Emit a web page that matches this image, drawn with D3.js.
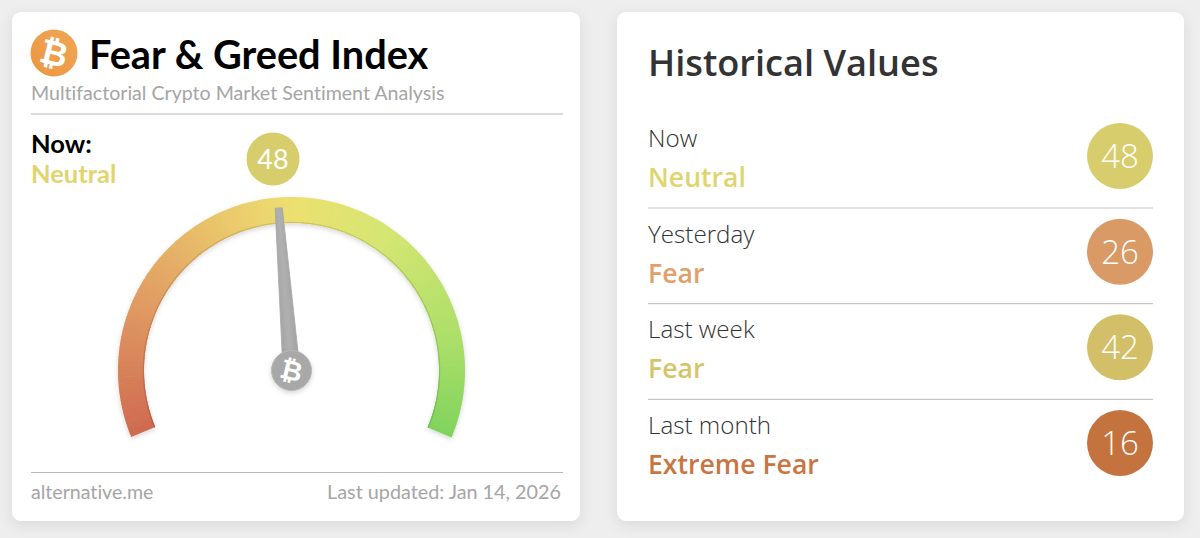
<!DOCTYPE html>
<html>
<head>
<meta charset="utf-8">
<script src="https://cdn.jsdelivr.net/npm/d3@7"></script>
<style>
  html, body { margin: 0; padding: 0; background: #eeeeee; }
  svg { display: block; }
  text { font-family: Lato, sans-serif; font-variant-ligatures: none; }
  .hist text { font-family: "Open Sans", Lato, sans-serif; }
</style>
</head>
<body>
<script>
'use strict';

const indexValue = 48;
const indexLabel = 'Neutral';

// gauge colours
const gaugeStops = [0, 20, 40, 50, 65, 85, 100];
const gaugeColors = ['#cf6a50', '#e09a62', '#ebca6c', '#ece070', '#d6e672', '#abdf69', '#80d35d'];

const histLabels = ['Now', 'Yesterday', 'Last week', 'Last month'];
const histStatus = ['Neutral', 'Fear', 'Fear', 'Extreme Fear'];
const histValues = [48, 26, 42, 16];
const histText = ['#dfd56f', '#e0a06c', '#d6c46b', '#c97542'];
const histFill = ['#d8cd6c', '#da9a66', '#d2bf68', '#c4733f'];

const width = 1200, height = 538;

const svg = d3.select('body').append('svg')
  .attr('width', width)
  .attr('height', height)
  .attr('viewBox', [0, 0, width, height]);

const defs = svg.append('defs');

const cardShadow = defs.append('filter').attr('id', 'cardShadow')
  .attr('x', '-10%').attr('y', '-10%').attr('width', '120%').attr('height', '120%');
cardShadow.append('feDropShadow')
  .attr('dx', 0).attr('dy', 4).attr('stdDeviation', 7)
  .attr('flood-color', '#000').attr('flood-opacity', 0.09);

const softShadow = defs.append('filter').attr('id', 'softShadow')
  .attr('x', '-20%').attr('y', '-20%').attr('width', '140%').attr('height', '140%');
softShadow.append('feDropShadow')
  .attr('dx', 0).attr('dy', 2).attr('stdDeviation', 2.5)
  .attr('flood-color', '#000').attr('flood-opacity', 0.16);

const logoGrad = defs.append('linearGradient').attr('id', 'logoGrad')
  .attr('x1', 0).attr('y1', 1).attr('x2', 1).attr('y2', 0);
logoGrad.append('stop').attr('offset', 0).attr('stop-color', '#ec963f');
logoGrad.append('stop').attr('offset', 1).attr('stop-color', '#efa658');

const needleGrad = defs.append('linearGradient').attr('id', 'needleGrad');
needleGrad.append('stop').attr('offset', 0).attr('stop-color', '#a4a4a4');
needleGrad.append('stop').attr('offset', 0.5).attr('stop-color', '#b0b0b0');
needleGrad.append('stop').attr('offset', 1).attr('stop-color', '#a2a2a2');

// cards
svg.selectAll('rect.card')
  .data([12, 617])
  .join('rect')
  .attr('class', 'card')
  .attr('x', d => d)
  .attr('y', 12)
  .attr('width', d => d === 12 ? 568 : 567)
  .attr('height', 509)
  .attr('rx', 9)
  .attr('fill', '#fff')
  .attr('filter', 'url(#cardShadow)');

// left card header
const left = svg.append('g');

function bitcoinGlyph(parent, x, y, size) {
  parent.append('text')
    .attr('transform', `translate(${x},${y}) rotate(14)`)
    .attr('text-anchor', 'middle')
    .attr('dominant-baseline', 'central')
    .attr('fill', '#fff')
    .attr('font-size', size)
    .attr('font-weight', 700)
    .style('font-family', '"DejaVu Sans", sans-serif')
    .text('₿');
}

left.append('circle').attr('cx', 54).attr('cy', 53).attr('r', 23.5).attr('fill', 'url(#logoGrad)');
bitcoinGlyph(left, 54, 53, 34);

left.append('text').attr('x', 89).attr('y', 69)
  .attr('font-size', 39.7).attr('font-weight', 700).attr('fill', '#000')
  .text('Fear & Greed Index');

left.append('text').attr('x', 31).attr('y', 100)
  .attr('font-size', 19.6).attr('fill', '#a5a5a5')
  .text('Multifactorial Crypto Market Sentiment Analysis');

left.selectAll('line.rule')
  .data([114, 472.5])
  .join('line')
  .attr('class', 'rule')
  .attr('x1', 31).attr('x2', 563)
  .attr('y1', d => d).attr('y2', d => d)
  .attr('stroke', '#b8b8b8').attr('stroke-width', 1.2);

left.append('text').attr('x', 31).attr('y', 153)
  .attr('font-size', 25.5).attr('font-weight', 700).attr('fill', '#000')
  .text('Now:');
left.append('text').attr('x', 31).attr('y', 183)
  .attr('font-size', 25.5).attr('font-weight', 700).attr('fill', '#dfd56f')
  .text(indexLabel);

left.append('circle').attr('cx', 273).attr('cy', 159).attr('r', 26.5).attr('fill', '#d8cd6c');
left.append('text').attr('x', 273).attr('y', 169)
  .attr('text-anchor', 'middle')
  .attr('font-size', 27).attr('fill', '#fff')
  .text(indexValue);

left.append('text').attr('x', 31).attr('y', 499)
  .attr('font-size', 19.6).attr('fill', '#a5a5a5')
  .text('alternative.me');
left.append('text').attr('x', 561).attr('y', 499)
  .attr('text-anchor', 'end')
  .attr('font-size', 19.8).attr('fill', '#a5a5a5')
  .text('Last updated: Jan 14, 2026');

// gauge
const cx = 291.5, cy = 370.5, outer = 173.5, inner = 147.5;
const sweep = 112.5 * Math.PI / 180;

const angle = d3.scaleLinear().domain([0, 100]).range([-sweep, sweep]);
const gaugeColor = d3.scaleLinear().domain(gaugeStops).range(gaugeColors);

const gauge = left.append('g').attr('transform', `translate(${cx},${cy})`);

const arc = d3.arc().innerRadius(inner).outerRadius(outer);
const steps = d3.range(0, 100, 0.5);

const band = gauge.append('g').attr('filter', 'url(#softShadow)');
band.selectAll('path')
  .data(steps)
  .join('path')
  .attr('d', d => arc({ startAngle: angle(d), endAngle: angle(d + 0.6) }))
  .attr('fill', d => gaugeColor(d));

// slightly darker lower edge of the band
const edgeArc = d3.arc().innerRadius(inner).outerRadius(inner + 1.2);
gauge.selectAll('path.edge')
  .data(steps)
  .join('path')
  .attr('class', 'edge')
  .attr('d', d => edgeArc({ startAngle: angle(d), endAngle: angle(d + 0.6) }))
  .attr('fill', d => d3.color(gaugeColor(d)).darker(0.35));

// needle
const needleLine = d3.line();
const needle = gauge.append('g')
  .attr('transform', `rotate(${angle(indexValue) * 180 / Math.PI})`);
needle.append('path')
  .attr('d', needleLine([[-8.5, 0], [-3.6, -163], [3.6, -163], [8.5, 0]]) + 'Z')
  .attr('fill', 'url(#needleGrad)')
  .attr('stroke', '#a8a8a8')
  .attr('stroke-width', 0.8)
  .attr('stroke-linejoin', 'round');

gauge.append('circle').attr('cx', 0).attr('cy', 0).attr('r', 20)
  .attr('fill', '#a8a8a8')
  .attr('stroke', '#b8b8b8')
  .attr('filter', 'url(#softShadow)');
bitcoinGlyph(gauge, 0, 0, 27);

// right card
const hist = svg.append('g').attr('class', 'hist');

hist.append('text').attr('x', 648).attr('y', 76)
  .attr('font-size', 36.2).attr('font-weight', 600).attr('fill', '#333')
  .text('Historical Values');

const rowY = d3.scaleLinear().domain([0, histLabels.length - 1]).range([156, 443]);

const row = hist.selectAll('g.row')
  .data(histLabels.map((label, i) => ({ label, i })))
  .join('g')
  .attr('class', 'row')
  .attr('transform', d => `translate(0,${rowY(d.i)})`);

row.append('text').attr('x', 648).attr('y', -9)
  .attr('font-size', 24.2).attr('font-weight', 300).attr('fill', '#333')
  .text(d => d.label);

row.append('text').attr('x', 648).attr('y', 31)
  .attr('font-size', 26.6).attr('font-weight', 600)
  .attr('fill', d => histText[d.i])
  .text(d => histStatus[d.i]);

row.append('circle').attr('cx', 1120).attr('cy', 0).attr('r', 33)
  .attr('fill', d => histFill[d.i]);

row.append('text').attr('x', 1120).attr('y', 12)
  .attr('text-anchor', 'middle')
  .attr('font-size', 33).attr('font-weight', 300).attr('fill', '#fff')
  .text(d => histValues[d.i]);

row.filter(d => d.i < histLabels.length - 1)
  .append('line')
  .attr('x1', 648).attr('x2', 1153)
  .attr('y1', 52).attr('y2', 52)
  .attr('stroke', '#c6c6c6').attr('stroke-width', 1.2);
</script>
</body>
</html>
